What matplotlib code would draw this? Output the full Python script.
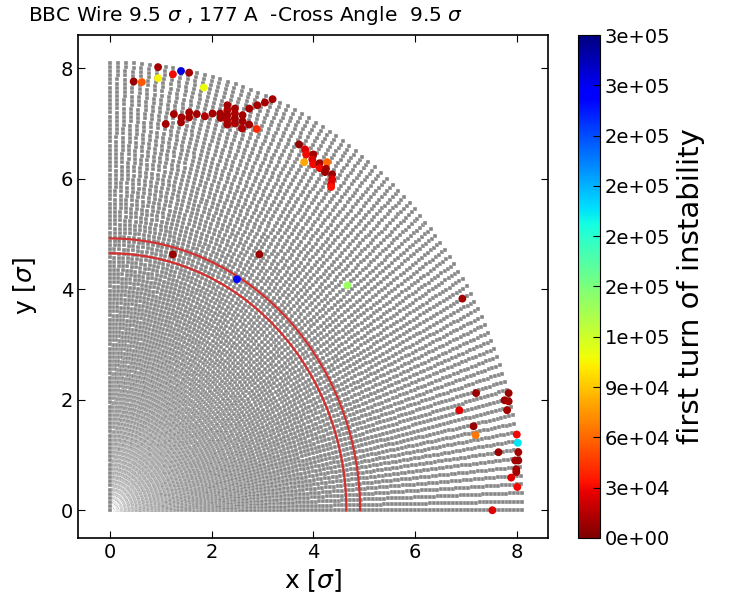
import numpy as np
import matplotlib
matplotlib.use("Agg")
import matplotlib.pyplot as plt
from matplotlib.ticker import FormatStrFormatter

# scan grid of initial amplitudes (polar)
r_max = 8.1
r_step = 0.075
n_angles = 82

# particles that went unstable: x, y [sigma], first turn of instability
unst_x = [0.47, 0.63, 0.95, 0.95, 1.24, 1.40, 1.56, 1.85,
          1.26, 1.10, 1.41, 1.40, 1.56, 1.56, 1.71, 1.87, 2.02, 2.17, 2.18,
          2.31, 2.31, 2.31, 2.31, 2.31, 2.46, 2.46, 2.46, 2.46, 2.61, 2.61, 2.60,
          2.74, 2.74, 2.90, 3.05, 3.20, 2.89,
          3.72, 3.84, 3.86, 3.82, 4.00, 3.98, 4.00, 4.12, 4.13, 4.27, 4.25, 4.23,
          4.37, 4.37, 4.35, 4.35,
          1.24, 2.94, 2.50, 4.67,
          6.93, 7.20, 7.84, 7.76, 7.84, 6.87, 7.81, 7.15, 7.19, 8.00, 8.02,
          7.64, 8.03, 7.97, 8.03, 7.99, 7.99, 7.89, 8.01, 7.52]
unst_y = [7.76, 7.75, 8.02, 7.82, 7.89, 7.95, 7.92, 7.65,
          7.17, 6.99, 7.11, 7.02, 7.20, 7.11, 7.17, 7.13, 7.18, 7.18, 7.10,
          7.33, 7.24, 7.15, 7.06, 6.98, 7.27, 7.18, 7.09, 7.00, 7.15, 7.04, 6.91,
          7.27, 6.98, 7.33, 7.38, 7.44, 6.90,
          6.62, 6.53, 6.44, 6.30, 6.44, 6.35, 6.26, 6.28, 6.19, 6.30, 6.18, 6.12,
          6.08, 5.99, 5.90, 5.85,
          4.63, 4.63, 4.18, 4.07,
          3.83, 2.12, 2.12, 1.99, 1.97, 1.81, 1.81, 1.52, 1.36, 1.37, 1.22,
          1.05, 1.05, 0.90, 0.90, 0.74, 0.69, 0.59, 0.42, 0.00]
unst_turn = [8e3, 5.5e4, 1e4, 1.05e5, 3e4, 2.75e5, 1e4, 1.1e5,
             1e4, 1e4, 1e4, 1e4, 1e4, 1e4, 1e4, 1.2e4, 1e4, 1e4, 1e4,
             1e4, 1.2e4, 1e4, 1.2e4, 1e4, 1e4, 1.2e4, 1e4, 1.2e4, 1e4, 1e4, 1.2e4,
             1e4, 1e4, 1e4, 1e4, 1e4, 4e4,
             5e3, 2.5e4, 3e4, 8e4, 1e4, 2.5e4, 3e4, 1e4, 3e4, 6e4, 1e4, 8e3,
             8e3, 2.5e4, 2.5e4, 3.3e4,
             8e3, 8e3, 2.6e5, 1.4e5,
             1e4, 8e3, 8e3, 8e3, 1e4, 2.5e4, 1e4, 8e3, 6.5e4, 3e4, 1.95e5,
             8e3, 1e4, 1e4, 8e3, 1e4, 1e4, 2.5e4, 3e4, 2.5e4]

# stable-area arcs
arc_radii = [4.65, 4.92]

cbar_ticks = [0, 3e4, 6e4, 9e4, 1.2e5, 1.5e5, 1.8e5, 2.1e5, 2.4e5, 2.7e5, 3e5]

fig = plt.figure(figsize=(7.38, 6.05), dpi=100)
ax = fig.add_axes([0.106, 0.111, 0.637, 0.831])
cax = fig.add_axes([0.783, 0.111, 0.030, 0.831])

r = np.arange(0, r_max + 1e-9, r_step)
th = np.linspace(0, np.pi / 2, n_angles)
R, TH = np.meshgrid(r, th)
ax.scatter(R * np.cos(TH), R * np.sin(TH), s=7, marker='s', c='#878787',
           edgecolors='white', linewidths=0.25, zorder=1)

t = np.linspace(0, np.pi / 2, 200)
for rad in arc_radii:
    ax.plot(rad * np.cos(t), rad * np.sin(t), color='#d43030', lw=1.6, zorder=2)

sc = ax.scatter(unst_x, unst_y, c=unst_turn, cmap='jet_r', vmin=0, vmax=3e5,
                s=32, edgecolors='none', zorder=3)

ax.set_xlim(-0.62, 8.62)
ax.set_ylim(-0.5, 8.6)
ax.set_xticks([0, 2, 4, 6, 8])
ax.set_yticks([0, 2, 4, 6, 8])
ax.tick_params(direction='in', top=True, right=True, labelsize=14, length=5)
ax.set_xlabel(r'x [$\sigma$]', fontsize=18)
ax.set_ylabel(r'y [$\sigma$]', fontsize=18, labelpad=16)
for sp in ax.spines.values():
    sp.set_linewidth(1.2)

cb = fig.colorbar(sc, cax=cax, ticks=cbar_ticks, format=FormatStrFormatter('%.0e'))
cb.ax.tick_params(labelsize=14, direction='in', length=5)
cb.set_label('first turn of instability', fontsize=21, labelpad=5)

fig.text(0.333, 0.975, r'BBC Wire 9.5 $\sigma$ , 177 A  -Cross Angle  9.5 $\sigma$',
         ha='center', va='center', fontsize=14.5)

fig.savefig('out.png', dpi=100)
